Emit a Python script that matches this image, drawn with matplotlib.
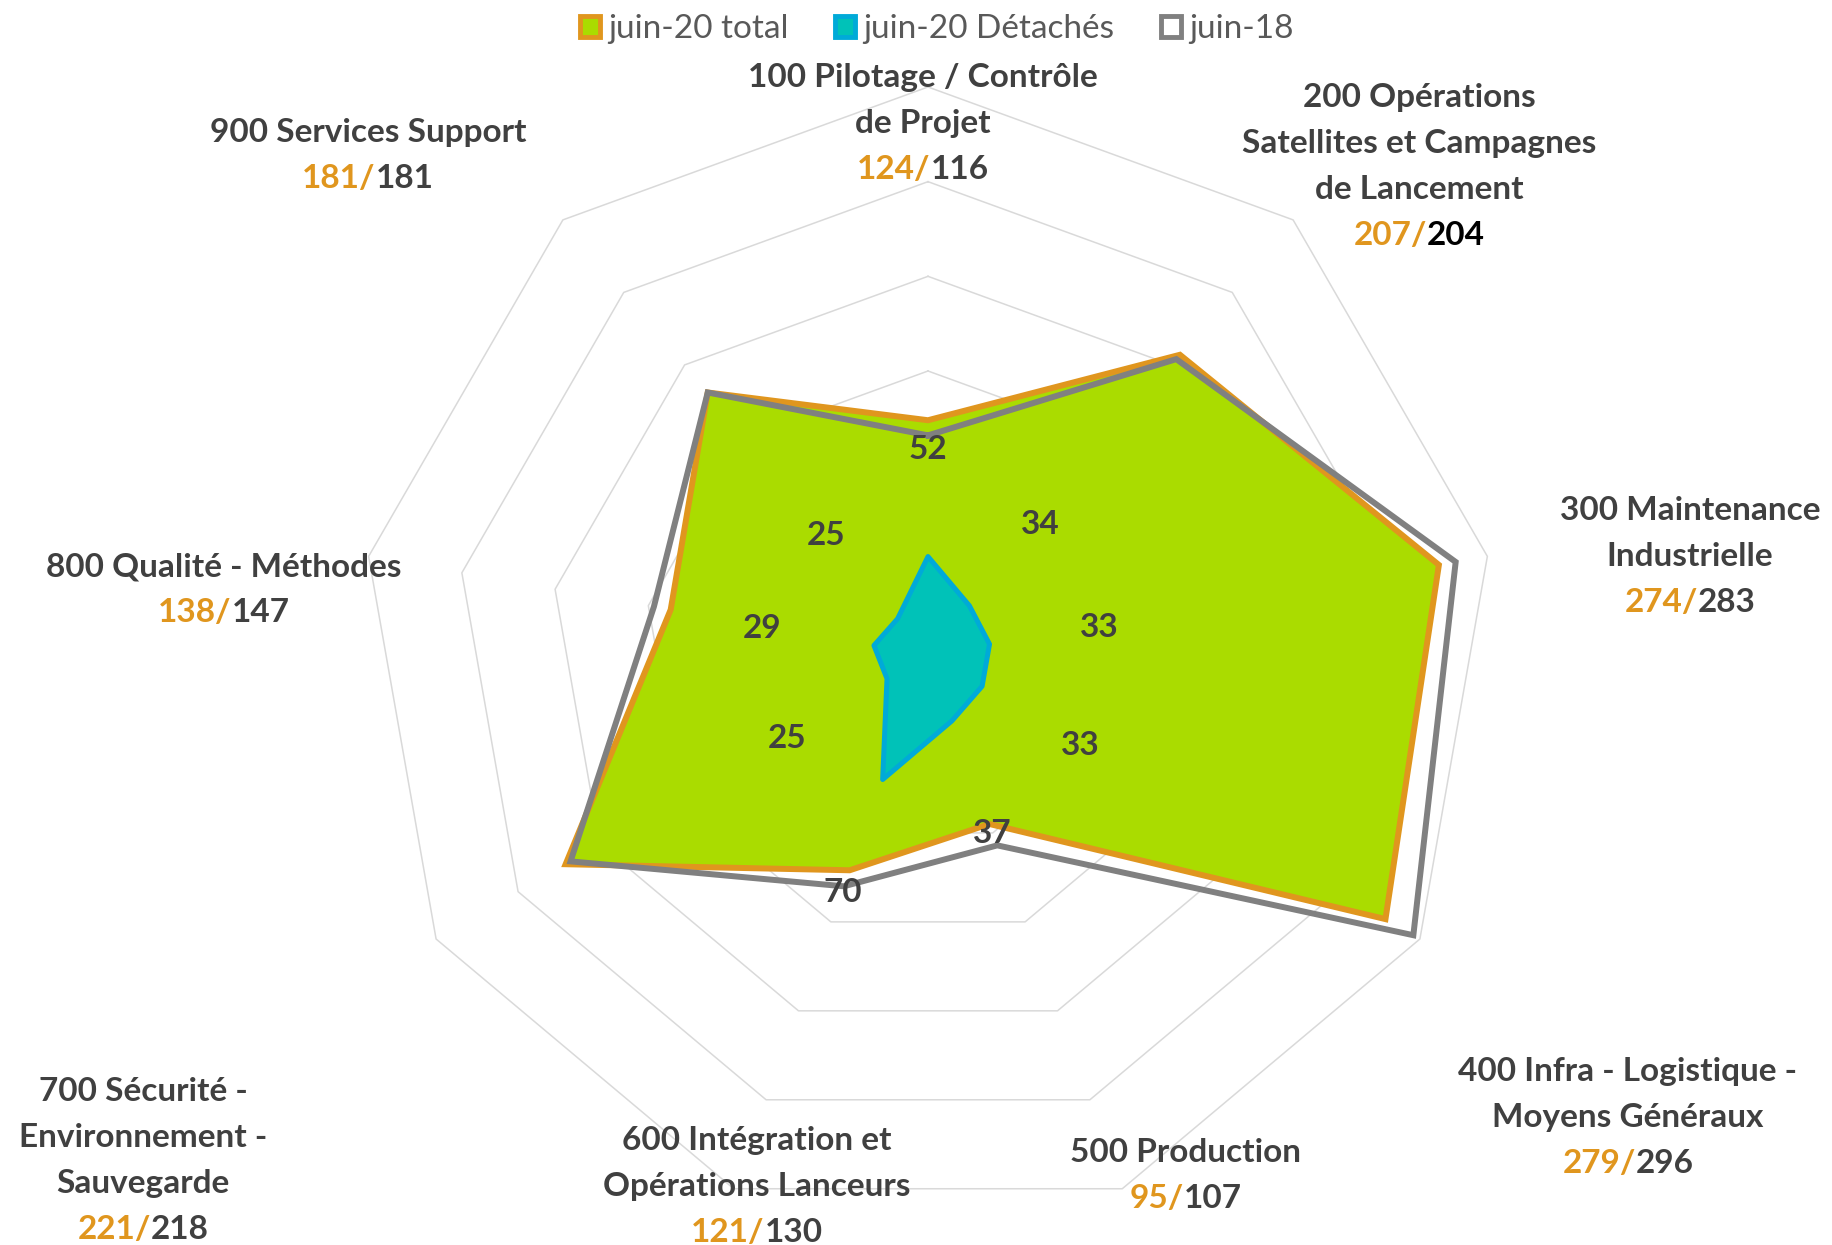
import numpy as np
import matplotlib
matplotlib.use("Agg")
import matplotlib.pyplot as plt
from matplotlib.patches import Patch

# data
categories = [
    "100 Pilotage / Contrôle\nde Projet",
    "200 Opérations\nSatellites et Campagnes\nde Lancement",
    "300 Maintenance\nIndustrielle",
    "400 Infra - Logistique -\nMoyens Généraux",
    "500 Production",
    "600 Intégration et\nOpérations Lanceurs",
    "700 Sécurité -\nEnvironnement -\nSauvegarde",
    "800 Qualité - Méthodes",
    "900 Services Support",
]
total_20 = [124, 207, 274, 279, 95, 121, 221, 138, 181]
detaches_20 = [52, 34, 33, 33, 37, 70, 25, 29, 25]
total_18 = [116, 204, 283, 296, 107, 130, 218, 147, 181]
grid_levels = [50, 100, 150, 200, 250, 300]
series_names = ["juin-20 total", "juin-20 Détachés", "juin-18"]

# style
GREEN = "#AADC00"
ORANGE = "#E0961E"
TEAL = "#00C2B8"
BLUE = "#00AAD8"
GRAY = "#808080"
GRID = "#D9D9D9"
TEXT = "#404040"
FS = 24

W, H = 1832, 1245
CX, CY, R = 928, 655, 568          # radar centre and outer radius, pixels
PITCH = 46                          # line pitch of the outer labels, pixels

# label anchors: (x centre, first baseline) in pixels from top-left
label_pos = [(923, 87), (1419, 107), (1690, 520), (1628, 1081), (1186, 1162),
             (757, 1150), (143, 1101), (224, 576), (368, 142)]
second_colors = [TEXT, "black", TEXT, TEXT, TEXT, TEXT, TEXT, TEXT, TEXT]
# radius (data units) where the Détachés value labels sit
det_label_r = [110, 92, 92, 93, 99, 132, 86, 89, 84]

plt.rcParams["font.family"] = ["Lato", "DejaVu Sans"]

fig = plt.figure(figsize=(W / 100, H / 100), dpi=100)
ax = fig.add_axes([(CX - R) / W, (H - CY - R) / H, 2 * R / W, 2 * R / H],
                  projection="polar")

n = len(categories)
theta = np.linspace(0, 2 * np.pi, n, endpoint=False)


def closed(v):
    v = np.asarray(v, dtype=float)
    return np.r_[v, v[:1]]


th = closed(theta)

ax.set_theta_zero_location("N")
ax.set_theta_direction(-1)
ax.set_ylim(0, grid_levels[-1])
ax.set_xticks([])
ax.set_yticks([])
ax.grid(False)
ax.spines["polar"].set_visible(False)
ax.patch.set_alpha(0)

for lvl in grid_levels:
    ax.plot(th, [lvl] * (n + 1), color=GRID, lw=1.1, zorder=1, clip_on=False)

ax.fill(th, closed(total_20), facecolor=GREEN, edgecolor=ORANGE, lw=4.3,
        zorder=2, clip_on=False)
ax.plot(th, closed(total_18), color=GRAY, lw=4.3, zorder=3, clip_on=False,
        solid_joinstyle="miter")
ax.fill(th, closed(detaches_20), facecolor=TEAL, edgecolor=BLUE, lw=3.6,
        zorder=4, joinstyle="round")

for t, r, v in zip(theta, det_label_r, detaches_20):
    ax.text(t, r, str(v), ha="center", va="center_baseline", fontsize=FS,
            fontweight="bold", color=TEXT, zorder=5)


def px(x, y):
    return x / W, 1 - y / H


renderer = fig.canvas.get_renderer()


def two_tone(x, y, left, right, right_color):
    t1 = fig.text(0, 0, left, color=ORANGE, fontsize=FS, fontweight="bold",
                  va="baseline", ha="left")
    t2 = fig.text(0, 0, right, color=right_color, fontsize=FS,
                  fontweight="bold", va="baseline", ha="left")
    w1 = t1.get_window_extent(renderer).width
    w2 = t2.get_window_extent(renderer).width
    x0 = x - (w1 + w2) / 2
    t1.set_position(px(x0, y))
    t2.set_position(px(x0 + w1, y))


for i, name in enumerate(categories):
    x, y0 = label_pos[i]
    lines = name.split("\n")
    for k, line in enumerate(lines):
        fig.text(*px(x, y0 + k * PITCH), line, ha="center", va="baseline",
                 fontsize=FS, fontweight="bold", color=TEXT)
    two_tone(x, y0 + len(lines) * PITCH, f"{total_20[i]}/", str(total_18[i]),
             second_colors[i])

handles = [
    Patch(facecolor=GREEN, edgecolor=ORANGE, lw=3.5),
    Patch(facecolor=TEAL, edgecolor=BLUE, lw=3.5),
    Patch(facecolor="white", edgecolor=GRAY, lw=3.5),
]
fig.legend(handles, series_names, loc="center", bbox_to_anchor=px(937, 29),
           ncol=3, frameon=False, fontsize=FS, labelcolor="#595959",
           handlelength=0.6, handleheight=0.6, handletextpad=0.25,
           columnspacing=1.4)

fig.savefig("out.png", dpi=100)
